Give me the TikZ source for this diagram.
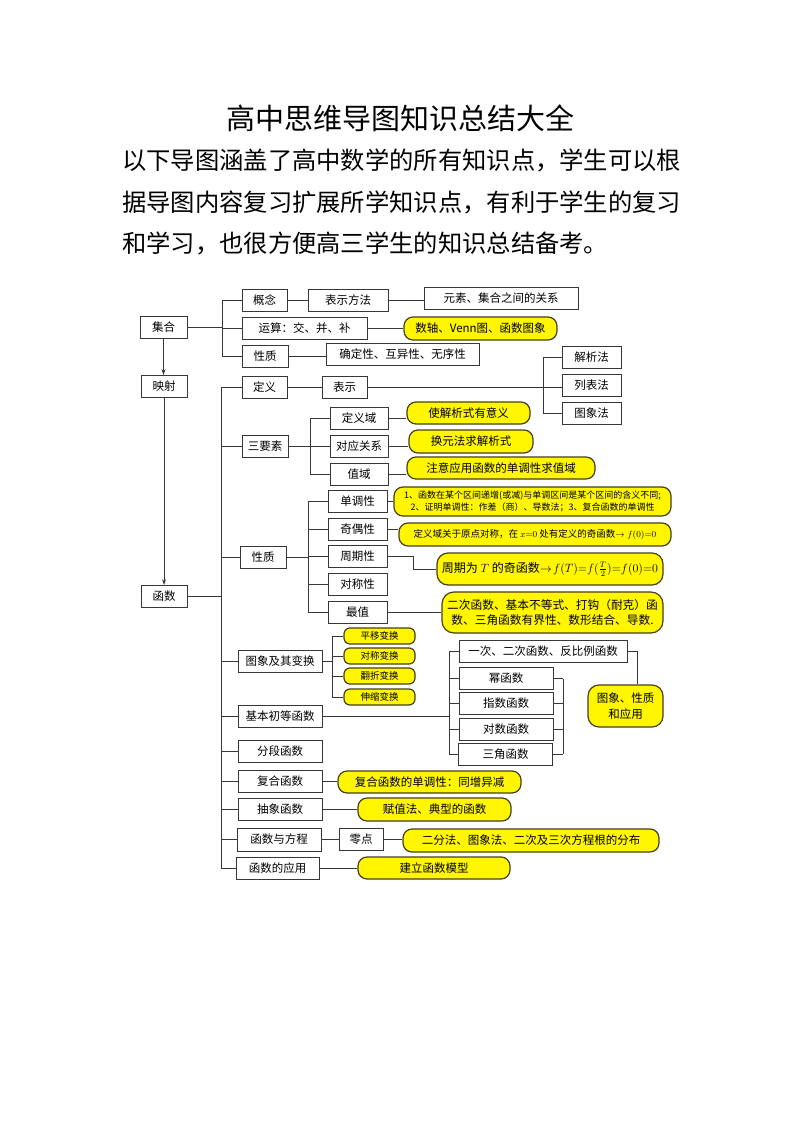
\documentclass[tikz,border=0pt]{standalone}
\usepackage{fontspec}
\setmainfont{Noto Sans CJK SC}
\usetikzlibrary{arrows.meta,backgrounds}
\definecolor{noteyellow}{RGB}{255,246,0}
\definecolor{noteedge}{RGB}{70,64,20}
\definecolor{linkgray}{RGB}{55,55,55}
\newcommand\boxfont{\fontsize{11.5}{14}\selectfont}
\tikzset{
  box/.style={draw=linkgray, line width=0.9pt, fill=white, inner sep=0pt,
    minimum height=22pt, font=\boxfont},
  note/.style={draw=noteedge, line width=1.2pt, fill=noteyellow, rounded corners=9pt,
    inner sep=0pt, minimum height=22pt, font=\boxfont, align=center},
  tinynote/.style={note, rounded corners=6pt, minimum height=16pt, minimum width=71pt,
    font=\fontsize{9.5}{11}\selectfont},
  link/.style={draw=linkgray, line width=0.9pt},
}
\begin{document}
\begin{tikzpicture}[x=1pt,y=-1pt]
\useasboundingbox (0,0) rectangle (800,1131);
% heading
\node[font=\fontsize{29}{32}\selectfont] (title) at (400,118) {高中思维导图知识总结大全};
\node[anchor=west, inner sep=0pt, font=\fontsize{24.3}{28}\selectfont] (line1) at (122,160)
  {以下导图涵盖了高中数学的所有知识点，学生可以根};
\node[anchor=west, inner sep=0pt, font=\fontsize{24.3}{28}\selectfont] (line2) at (122,202)
  {据导图内容复习扩展所学知识点，有利于学生的复习};
\node[anchor=west, inner sep=0pt, font=\fontsize{24.3}{28}\selectfont] (line3) at (122,243)
  {和学习，也很方便高三学生的知识总结备考。};
% sets
\node[box, minimum width=47pt] (jihe) at (163.5,327.5) {集合};
\node[box, minimum width=45pt] (gainian) at (264.5,300) {概念};
\node[box, minimum width=80pt] (biaoshifangfa) at (348,300) {表示方法};
\node[box, minimum width=154pt] (yuansu) at (501,298.5) {元素、集合之间的关系};
\node[box, minimum width=125pt] (yunsuan) at (304.5,328) {运算：交、并、补};
\node[note, minimum width=153pt, minimum height=23pt] (shuzhou) at (480.5,328.5) {数轴、Venn图、函数图象};
\node[box, minimum width=46pt] (xingzhiA) at (265,356) {性质};
\node[box, minimum width=153pt] (queding) at (402.5,354) {确定性、互异性、无序性};
\node[box, minimum width=46pt] (yingshe) at (164,386.5) {映射};
\node[box, minimum width=46pt] (hanshu) at (164,596.5) {函数};
% definition
\node[box, minimum width=45pt] (dingyi) at (264.5,387.5) {定义};
\node[box, minimum width=45pt] (biaoshi) at (344.5,387.5) {表示};
\node[box, minimum width=59pt] (jiexi) at (591.5,357.5) {解析法};
\node[box, minimum width=59pt] (liebiao) at (591.5,385) {列表法};
\node[box, minimum width=59pt] (tuxiang) at (591.5,413) {图象法};
% three elements
\node[box, minimum width=46pt] (sanyaosu) at (265,446) {三要素};
\node[box, minimum width=58pt] (dingyiyu) at (359,418.5) {定义域};
\node[box, minimum width=58pt] (duiying) at (359,446) {对应关系};
\node[box, minimum width=58pt] (zhiyu) at (359,474) {值域};
\node[note, minimum width=123pt] (yiyi) at (468.5,413) {使解析式有意义};
\node[note, minimum width=124pt, minimum height=23pt] (huanyuan) at (471,441.5) {换元法求解析式};
\node[note, minimum width=188pt] (zhuyi) at (501,468) {注意应用函数的单调性求值域};
% properties
\node[box, minimum width=46pt] (xingzhiB) at (263,557) {性质};
\node[box, minimum width=59pt] (dandiao) at (357.5,501) {单调性};
\node[box, minimum width=59pt] (jiou) at (357.5,529) {奇偶性};
\node[box, minimum width=59pt] (zhouqi) at (357.5,556.5) {周期性};
\node[box, minimum width=59pt] (duicheng) at (357.5,584) {对称性};
\node[box, minimum width=59pt] (zuizhi) at (357.5,612) {最值};
\node[note, minimum width=277pt, minimum height=29pt, font=\fontsize{9}{12.5}\selectfont] (dandiaoN) at (532.5,501.5)
  {1、函数在某个区间递增(或减)与单调区间是某个区间的含义不同;\\2、证明单调性：作差（商）、导数法；3、复合函数的单调性};
\node[note, minimum width=272pt, minimum height=23pt, font=\fontsize{9.5}{12}\selectfont] (jiouN) at (535,534.5)
  {定义域关于原点对称，在 $x{=}0$ 处有定义的奇函数$\rightarrow f(0){=}0$};
\node[note, minimum width=226pt, minimum height=32pt, rounded corners=11pt, font=\fontsize{12}{15}\selectfont] (zhouqiN) at (550,569)
  {周期为 $T$ 的奇函数$\rightarrow\! f(T){=}f(\frac{T}{2}){=}f(0){=}0$};
\node[note, minimum width=221pt, minimum height=41pt, rounded corners=12pt, font=\fontsize{11.7}{15}\selectfont] (zuizhiN) at (552.5,612.5)
  {二次函数、基本不等式、打钩（耐克）函\\数、三角函数有界性、数形结合、导数.};
% graphs and transforms
\node[box, minimum width=84pt] (tuxiangbh) at (280,661.5) {图象及其变换};
\node[tinynote] (pingyi) at (379.5,636) {平移变换};
\node[tinynote] (duichengbh) at (379.5,656) {对称变换};
\node[tinynote] (fanzhe) at (379.5,676) {翻折变换};
\node[tinynote] (shensuo) at (379.5,697) {伸缩变换};
% elementary functions
\node[box, minimum width=84pt] (jiben) at (280,716.5) {基本初等函数};
\node[box, minimum width=168pt] (yici) at (543,651.5) {一次、二次函数、反比例函数};
\node[box, minimum width=94pt] (mi) at (506,678.5) {幂函数};
\node[box, minimum width=94pt] (zhishu) at (506,703.5) {指数函数};
\node[box, minimum width=94pt] (duishu) at (506,729) {对数函数};
\node[box, minimum width=94pt] (sanjiao) at (505.5,754) {三角函数};
\node[note, minimum width=75pt, minimum height=42pt, rounded corners=11pt, font=\fontsize{11.5}{16}\selectfont] (tuxingzhi) at (625.5,706)
  {图象、性质\\和应用};
% other kinds
\node[box, minimum width=84pt] (fenduan) at (280,751.5) {分段函数};
\node[box, minimum width=84pt] (fuhe) at (280,781.5) {复合函数};
\node[note, minimum width=183pt] (fuheN) at (429.5,782) {复合函数的单调性：同增异减};
\node[box, minimum width=84pt] (chouxiang) at (280,809.5) {抽象函数};
\node[note, minimum width=153pt, minimum height=23pt] (chouxiangN) at (434.5,809.5) {赋值法、典型的函数};
\node[box, minimum width=84pt, minimum height=23pt] (fangcheng) at (279,839.5) {函数与方程};
\node[box, minimum width=44pt] (lingdian) at (361,839) {零点};
\node[note, minimum width=256pt, minimum height=23pt] (lingdianN) at (531,840.5) {二分法、图象法、二次及三次方程根的分布};
\node[box, minimum width=83pt] (yingyong) at (277.5,868) {函数的应用};
\node[note, minimum width=152pt] (yingyongN) at (434,868) {建立函数模型};
% bar positions
\coordinate (setbar) at (222,0);
\coordinate (trunk) at (221,0);
\coordinate (reprbar) at (543,0);
\coordinate (yaobar) at (310,0);
\coordinate (xzbar) at (308,0);
\coordinate (bhbar) at (332,0);
\coordinate (jbleft) at (449,0);
\coordinate (jbright) at (563,0);
\begin{scope}[on background layer]
\fill[white] (0,0) rectangle (800,1131);
% sets
\draw[link] (jihe.east) -- (jihe.east -| setbar);
\draw[link] (gainian.west -| setbar) -- (xingzhiA.west -| setbar);
\foreach \n in {gainian,yunsuan,xingzhiA}
  \draw[link] (\n.west) -- (\n.west -| setbar);
\draw[link] (gainian.east) -- (biaoshifangfa.west);
\draw[link] (biaoshifangfa.east) -- (biaoshifangfa.east -| yuansu.west);
\draw[link] (yunsuan.east) -- (yunsuan.east -| shuzhou.west);
\draw[link] (xingzhiA.east) -- (xingzhiA.east -| queding.west);
\draw[link, -{Stealth[length=6pt,width=4pt]}] (jihe.south) -- (jihe.south |- yingshe.north);
\draw[link, -{Stealth[length=6pt,width=4pt]}] (yingshe.south) -- (yingshe.south |- hanshu.north);
% trunk of functions
\draw[link] (hanshu.east) -- (hanshu.east -| trunk);
\draw[link] (dingyi.west -| trunk) -- (yingyong.west -| trunk);
\foreach \n in {dingyi,sanyaosu,xingzhiB,tuxiangbh,jiben,fenduan,fuhe,chouxiang,fangcheng,yingyong}
  \draw[link] (\n.west) -- (\n.west -| trunk);
% definition
\draw[link] (dingyi.east) -- (biaoshi.west);
\draw[link] (biaoshi.east) -- (biaoshi.east -| liebiao.west);
\draw[link] (jiexi.west -| reprbar) -- (tuxiang.west -| reprbar);
\foreach \n in {jiexi,tuxiang}
  \draw[link] (\n.west) -- (\n.west -| reprbar);
% three elements
\draw[link] (sanyaosu.east) -- (sanyaosu.east -| yaobar);
\draw[link] (dingyiyu.west -| yaobar) -- (zhiyu.west -| yaobar);
\foreach \n in {dingyiyu,duiying,zhiyu}
  \draw[link] (\n.west) -- (\n.west -| yaobar);
\draw[link] (dingyiyu.east) -- (dingyiyu.east -| yiyi.west);
\draw[link] (duiying.east) -- (duiying.east -| huanyuan.west);
\draw[link] (zhiyu.east) -- (zhiyu.east -| zhuyi.west);
% properties
\draw[link] (xingzhiB.east) -- (xingzhiB.east -| xzbar);
\draw[link] (dandiao.west -| xzbar) -- (zuizhi.west -| xzbar);
\foreach \n in {dandiao,jiou,zhouqi,duicheng,zuizhi}
  \draw[link] (\n.west) -- (\n.west -| xzbar);
\draw[link] (dandiao.east) -- (dandiao.east -| dandiaoN.west);
\draw[link] (jiou.east) -- (jiou.east -| jiouN.west);
\draw[link] (zhouqi.east) -- ++(26,0) |- (zhouqiN.west);
\draw[link] (zuizhi.east) -- (zuizhi.east -| zuizhiN.west);
% transforms
\draw[link] (tuxiangbh.east) -- (tuxiangbh.east -| bhbar);
\draw[link] (pingyi.west -| bhbar) -- (shensuo.west -| bhbar);
\foreach \n in {pingyi,duichengbh,fanzhe,shensuo}
  \draw[link] (\n.west) -- (\n.west -| bhbar);
% elementary functions
\draw[link] (jiben.east) -- (jiben.east -| jbleft);
\draw[link] (yici.west -| jbleft) -- (sanjiao.west -| jbleft);
\foreach \n in {yici,mi,zhishu,duishu,sanjiao}
  \draw[link] (\n.west) -- (\n.west -| jbleft);
\draw[link] (mi.east -| jbright) -- (sanjiao.east -| jbright);
\foreach \n in {mi,zhishu,duishu,sanjiao}
  \draw[link] (\n.east) -- (\n.east -| jbright);
\draw[link] (yici.east) -- ++(10,0) coordinate (yicibend) -- (yicibend |- tuxingzhi.north);
% other kinds
\draw[link] (fuhe.east) -- (fuhe.east -| fuheN.west);
\draw[link] (chouxiang.east) -- (chouxiang.east -| chouxiangN.west);
\draw[link] (fangcheng.east) -- (fangcheng.east -| lingdian.west);
\draw[link] (lingdian.east) -- (lingdian.east -| lingdianN.west);
\draw[link] (yingyong.east) -- (yingyong.east -| yingyongN.west);
\end{scope}
\end{tikzpicture}
\end{document}
